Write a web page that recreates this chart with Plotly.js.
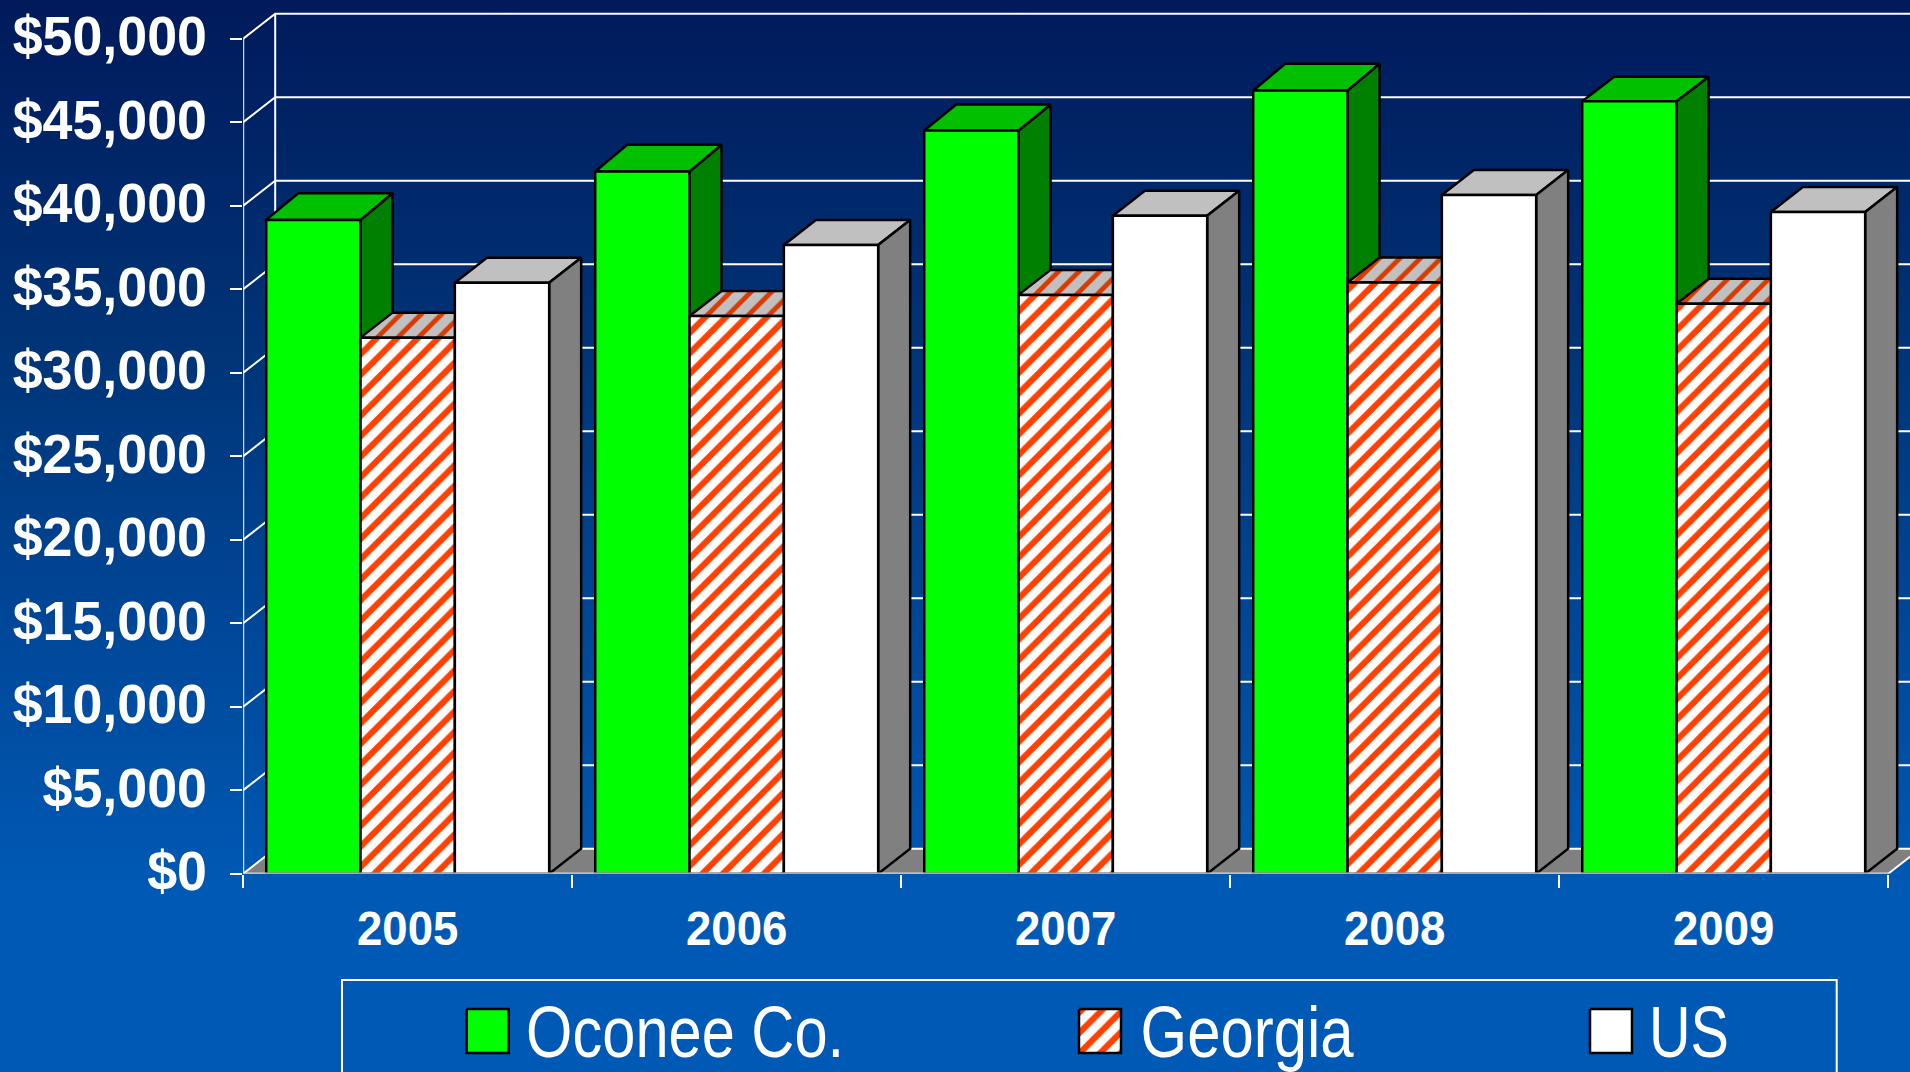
<!DOCTYPE html>
<html><head><meta charset="utf-8">
<script src="https://cdn.plot.ly/plotly-3.0.1.min.js"></script>
<style>
html,body{margin:0;padding:0;width:1910px;height:1072px;overflow:hidden;
background:linear-gradient(180deg,#001a5b 0px,#003578 360px,#00489a 640px,#005ab5 900px,#005ab5 1072px);}
#chart{width:1910px;height:1072px;}
</style></head><body><div id="chart"></div>
<script>
const years = ['2005','2006','2007','2008','2009'];
const oconee = [39150,42050,44500,46900,46260];
const georgia = [32100,33390,34660,35400,34130];
const us = [35390,37650,39400,40640,39620];
const yTicks = [0,5000,10000,15000,20000,25000,30000,35000,40000,45000,50000];
const yTickText = ['$0','$5,000','$10,000','$15,000','$20,000','$25,000','$30,000','$35,000','$40,000','$45,000','$50,000'];
const legendNames = ['Oconee Co.','Georgia','US'];
const legendTextWidth = [318,213,80];
const oconeeDepthPx = [26.7,26.7,26,26.7,24.3];

const W=1910,H=1072, X0=243.2, CAT=329, Y0=873.7, PXV=835/50000;
const xMax=(W-X0)/CAT, yMax=Y0/PXV;
const DX=32/CAT, DY=25/PXV, GAP=0.14, BW=(1-GAP)/3, LW=2.5;
const yearX=years.map((_,i)=>i+0.5);
const GREEN='#00ff00', ORANGE='#ff4000';

function poly(list){const x=[],y=[];list.forEach(p=>{p.forEach(c=>{x.push(c[0]);y.push(c[1]);});x.push(null);y.push(null);});return {x,y};}
function barLeft(i,s){return i+0.5-1.5*BW+s*BW;}
function depthAt(depths,i){return depths?depths[i]/PXV:DY;}
function topFace(vals,s,depths){return poly(vals.map((v,i)=>{const l=barLeft(i,s),r=l+BW,d=depthAt(depths,i);return [[l,v],[l+DX,v+d],[r+DX,v+d],[r,v],[l,v]];}));}
function sideFace(vals,s,depths){return poly(vals.map((v,i)=>{const r=barLeft(i,s)+BW,d=depthAt(depths,i);return [[r,0],[r,v],[r+DX,v+d],[r+DX,DY],[r,0]];}));}
function face(o,fill,extra){return Object.assign({type:'scatter',mode:'lines',x:o.x,y:o.y,fill:'toself',fillcolor:fill,
  line:{color:'#000',width:LW},hoverinfo:'skip',showlegend:false,xaxis:'x',yaxis:'y'},extra||{});}
function wire(x,y){return {type:'scatter',mode:'lines',x,y,line:{color:'#ffffff',width:2},hoverinfo:'skip',showlegend:false,xaxis:'x',yaxis:'y'};}

const gx=[],gy=[];
yTicks.forEach(v=>{gx.push(0,DX,xMax+1,null);gy.push(v,v+DY,v+DY,null);});
const stripes={shape:'/',fgcolor:ORANGE,bgcolor:'#ffffff',size:14.5,solidity:0.42};
const traces=[
  face(poly([[[0,0],[DX,DY],[5+DX,DY],[5,0],[0,0]]]),'#808080',{line:{width:0,color:'#808080'}}),
  wire(gx,gy),
  wire([DX,DX],[DY,50000+DY]),
  wire([0,0],[0,50000]),
  wire([5,5+DX],[0,DY]),
  face(sideFace(oconee,0,oconeeDepthPx),'#008000'),
  face(topFace(oconee,0,oconeeDepthPx),'#00c000'),
  face(topFace(georgia,1),'#c0c0c0',{fillpattern:{shape:'/',fgcolor:'#d83a00',bgcolor:'#c0c0c0',size:14.5,solidity:0.33}}),
  face(topFace(us,2),'#c0c0c0'),
  face(sideFace(us,2),'#808080'),
  {type:'bar',name:legendNames[0],x:yearX,y:oconee,xaxis:'x2',yaxis:'y2',marker:{color:GREEN,line:{color:'#000',width:LW}},showlegend:false},
  {type:'bar',name:legendNames[1],x:yearX,y:georgia,xaxis:'x2',yaxis:'y2',marker:{color:'#fff',line:{color:'#000',width:LW},pattern:stripes},showlegend:false},
  {type:'bar',name:legendNames[2],x:yearX,y:us,xaxis:'x2',yaxis:'y2',marker:{color:'#fff',line:{color:'#000',width:LW}},showlegend:false}
];
// legend swatches on a page-sized axis pair
const swatchLeft=[466.7,1079,1590], SW=42, swTop=1009, swBot=1053;
const swatchStyle=[{fillcolor:GREEN},{fillcolor:'#fff',fillpattern:stripes},{fillcolor:'#fff'}];
swatchLeft.forEach((l,i)=>{
  traces.push(Object.assign({type:'scatter',mode:'lines',x:[l,l+SW,l+SW,l,l],y:[swTop,swTop,swBot,swBot,swTop],fill:'toself',
    line:{color:'#000',width:LW},hoverinfo:'skip',showlegend:false,xaxis:'x3',yaxis:'y3'},swatchStyle[i]));
});
const textLeft=[490.5,1116.5,1637];
const layout={
  width:W,height:H,margin:{l:0,r:0,t:0,b:0},paper_bgcolor:'rgba(0,0,0,0)',plot_bgcolor:'rgba(0,0,0,0)',
  barmode:'group',bargap:GAP,bargroupgap:0,showlegend:false,
  font:{family:'"Liberation Sans",Arial,sans-serif',color:'#fff'},
  xaxis:{domain:[X0/W,1],range:[0,xMax],tickmode:'array',tickvals:yearX,ticktext:years,ticks:'',showgrid:false,zeroline:false,showline:false,
    tickfont:{size:49,weight:700,color:'#fff'},ticklabelstandoff:21},
  yaxis:{domain:[(H-Y0)/H,1],range:[0,yMax],tickmode:'array',tickvals:yTicks,ticktext:yTickText,ticks:'outside',ticklen:12,tickwidth:2,tickcolor:'#fff',
    showgrid:false,zeroline:false,showline:false,tickfont:{size:56,weight:700,color:'#fff'},ticklabelstandoff:24.7},
  xaxis2:{domain:[X0/W,1],range:[0,xMax],overlaying:'x',anchor:'y2',tickmode:'array',tickvals:[0,1,2,3,4,5],ticks:'outside',ticklen:13,tickwidth:2,tickcolor:'#fff',showticklabels:false,showgrid:false,zeroline:false},
  yaxis2:{domain:[(H-Y0)/H,1],range:[0,yMax],overlaying:'y',anchor:'x2',visible:false},
  xaxis3:{domain:[0,1],range:[0,W],anchor:'y3',visible:false},
  yaxis3:{domain:[0,1],range:[H,0],anchor:'x3',visible:false},
  shapes:[
    {type:'line',xref:'x',yref:'y',x0:-0.002,x1:5,y0:0,y1:0,layer:'above',line:{color:'#d8d8d8',width:2.5}},
    {type:'rect',xref:'paper',yref:'paper',x0:342/W,x1:1836.7/W,y0:(H-980)/H,y1:-0.05,layer:'above',line:{color:'#fff',width:2},fillcolor:'rgba(0,0,0,0)'}
  ],
  annotations:legendNames.map((t,i)=>({xref:'paper',yref:'paper',x:textLeft[i]/W,y:(H-1031.5)/H,xanchor:'left',yanchor:'middle',showarrow:false,text:t,
    font:{family:'"Liberation Sans",sans-serif',size:72,color:'#fff'}}))
};
Plotly.newPlot('chart',traces,layout,{staticPlot:true,displayModeBar:false}).then(gd=>{
  // the reference type is slightly condensed; squeeze the real text to match
  const squeeze=(sel,f)=>gd.querySelectorAll(sel).forEach(t=>{
    t.setAttribute('textLength',t.getComputedTextLength()*f);t.setAttribute('lengthAdjust','spacingAndGlyphs');});
  squeeze('.yaxislayer-above .ytick text',0.96);
  squeeze('.xaxislayer-above .xtick text',0.93);
  gd.querySelectorAll('.yaxislayer-above .ytick text').forEach(t=>{t.setAttribute('dy','-3');t.setAttribute('dx','-12');});
  gd.querySelectorAll('.annotation-text').forEach((t,i)=>{
    t.setAttribute('textLength',legendTextWidth[i]);t.setAttribute('lengthAdjust','spacingAndGlyphs');});
});
</script></body></html>
